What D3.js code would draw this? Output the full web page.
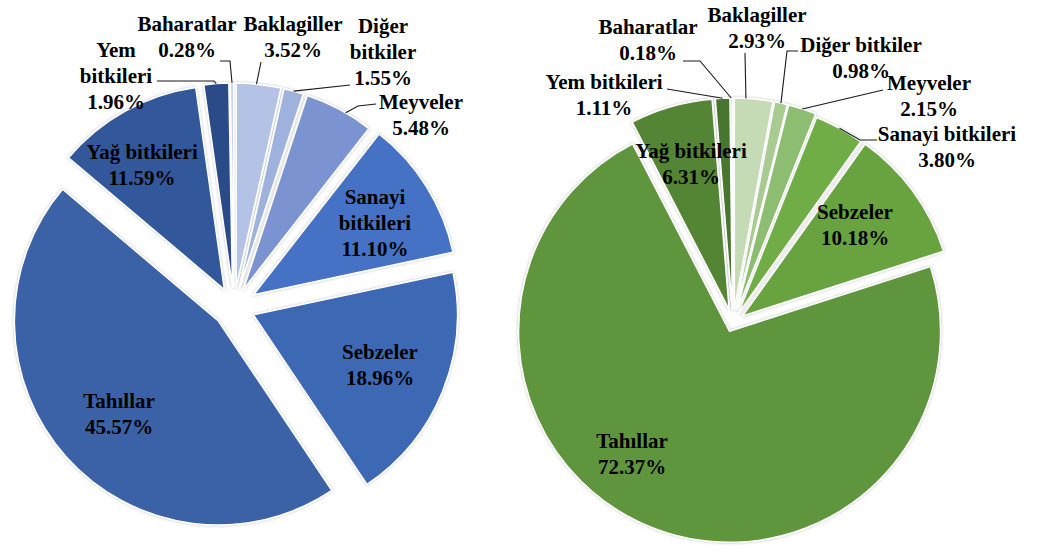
<!DOCTYPE html>
<html>
<head>
<meta charset="utf-8">
<script src="https://cdn.jsdelivr.net/npm/d3@7"></script>
<style>
  html, body { margin: 0; padding: 0; background: #ffffff; }
  svg { display: block; }
</style>
</head>
<body>
<svg id="chart" width="1046" height="549"></svg>
<script>
// ---------------- DATA ----------------
const categories = ["Baklagiller", "Diğer bitkiler", "Meyveler", "Sanayi bitkileri", "Sebzeler",
                    "Tahıllar", "Yağ bitkileri", "Yem bitkileri", "Baharatlar"];
const leftValues  = [3.52, 1.55, 5.48, 11.10, 18.96, 45.57, 11.59, 1.96, 0.28];
const rightValues = [2.93, 0.98, 2.15, 3.80, 10.18, 72.37, 6.31, 1.11, 0.18];

// ---------------- STYLE / LAYOUT ----------------
const leftColors  = ["#b4c3e5", "#9fb1dd", "#7b93d1", "#4472c4", "#3e69b4", "#3a62a7", "#30589b", "#2a4c88", "#c9d4ee"];
const rightColors = ["#c5dbb5", "#a8cb92", "#8dbd70", "#70ad47", "#67a341", "#5f963c", "#528534", "#49762e", "#dce9d2"];

const FONT_FAMILY = "'Liberation Serif', Tinos, 'Times New Roman', 'DejaVu Serif', serif";
const FONT = 21, LINE = 26;

const leftPie = {
  cx: 234, cy: 307, r: 204,
  explode: [20, 20, 20, 23, 21, 21, 20, 20, 20],
  colors: leftColors, values: leftValues,
  labels: [
    { lines: ["Baklagiller"], dx: 59, dy: -270, leader: { t: 0.45, pts: [[27, -245]] } },
    { lines: ["Diğer", "bitkiler"], dx: 149, dy: -255, leader: { t: 0.5, pts: [[116, -222]] } },
    { lines: ["Meyveler"], dx: 187, dy: -192.5, leader: { t: 0.6, pts: [[124, -201], [142, -203]] } },
    { lines: ["Sanayi", "bitkileri"], dx: 141, dy: -84 },
    { lines: ["Sebzeler"], dx: 146, dy: 57.5 },
    { lines: ["Tahıllar"], dx: -115, dy: 106.5 },
    { lines: ["Yağ bitkileri"], dx: -92, dy: -142 },
    { lines: ["Yem", "bitkileri"], dx: -118, dy: -231, leader: { t: 0.5, pts: [[-20, -226], [-77, -226]] } },
    { lines: ["Baharatlar"], dx: -47, dy: -270, leader: { t: 0.5, pts: [[-4, -246], [-14, -246]] } }
  ]
};

const rightPie = {
  cx: 733, cy: 323, r: 211,
  explode: [14, 14, 14, 11, 12, 9, 14, 14, 14],
  colors: rightColors, values: rightValues,
  labels: [
    { lines: ["Baklagiller"], dx: 24, dy: -295, leader: { t: 0.3, pts: [[12, -270]] } },
    { lines: ["Diğer bitkiler"], dx: 128, dy: -265.5, leader: { t: 0.5, pts: [[54, -272], [65, -272]] } },
    { lines: ["Meyveler"], dx: 196, dy: -227, leader: { t: 0.5, pts: [[150, -233]] } },
    { lines: ["Sanayi bitkileri"], dx: 214, dy: -176, leader: { t: 0.5, pts: [[127, -183], [144, -183]] } },
    { lines: ["Sebzeler"], dx: 122, dy: -98 },
    { lines: ["Tahıllar"], dx: -101, dy: 130.5 },
    { lines: ["Yağ bitkileri"], dx: -42, dy: -159.5 },
    { lines: ["Yem bitkileri"], dx: -129, dy: -228.5, leader: { t: 0.5, pts: [[-66, -234]] } },
    { lines: ["Baharatlar"], dx: -85, dy: -283, leader: { t: 0.3, pts: [[-33, -262], [-50, -262]] } }
  ]
};

// ---------------- DRAW ----------------
const svg = d3.select("#chart");
const defs = svg.append("defs");
const shadow = defs.append("filter").attr("id", "soft").attr("x", "-10%").attr("y", "-10%")
  .attr("width", "120%").attr("height", "120%");
shadow.append("feDropShadow").attr("dx", 0).attr("dy", 0).attr("stdDeviation", 1.6)
  .attr("flood-color", "#000").attr("flood-opacity", 0.28);

const pieGen = d3.pie().sort(null).value(d => d).startAngle(0).endAngle(2 * Math.PI);

function drawPie(cfg) {
  const arcs = pieGen(cfg.values);
  const arcGen = d3.arc().innerRadius(0).outerRadius(cfg.r);
  const g = svg.append("g").attr("transform", `translate(${cfg.cx},${cfg.cy})`);

  const offs = arcs.map((a, i) => {
    const mid = (a.startAngle + a.endAngle) / 2;
    return [cfg.explode[i] * Math.sin(mid), -cfg.explode[i] * Math.cos(mid)];
  });

  g.append("g").attr("filter", "url(#soft)")
    .selectAll("path").data(arcs).join("path")
    .attr("d", arcGen)
    .attr("transform", (a, i) => `translate(${offs[i][0]},${offs[i][1]})`)
    .attr("fill", (a, i) => cfg.colors[i])
    .attr("stroke", "#ffffff")
    .attr("stroke-width", 1.5)
    .attr("stroke-linejoin", "round");

  // leader lines
  arcs.forEach((a, i) => {
    const lab = cfg.labels[i];
    if (!lab.leader) return;
    const ang = a.startAngle + (a.endAngle - a.startAngle) * lab.leader.t;
    const p0 = [offs[i][0] + cfg.r * Math.sin(ang), offs[i][1] - cfg.r * Math.cos(ang)];
    const pts = [p0].concat(lab.leader.pts);
    g.append("path")
      .attr("d", d3.line()(pts))
      .attr("fill", "none")
      .attr("stroke", "#1a1a1a")
      .attr("stroke-width", 1.1);
  });

  // labels
  arcs.forEach((a, i) => {
    const lab = cfg.labels[i];
    const lines = lab.lines.concat([cfg.values[i].toFixed(2) + "%"]);
    const n = lines.length;
    const t = g.append("text")
      .attr("text-anchor", "middle")
      .attr("font-family", FONT_FAMILY)
      .attr("font-weight", "bold")
      .attr("font-size", FONT)
      .attr("fill", "#000");
    lines.forEach((s, k) => {
      t.append("tspan")
        .attr("x", lab.dx)
        .attr("y", lab.dy + (k - (n - 1) / 2) * LINE + 7)
        .text(s);
    });
  });
}

drawPie(leftPie);
drawPie(rightPie);
</script>
</body>
</html>
